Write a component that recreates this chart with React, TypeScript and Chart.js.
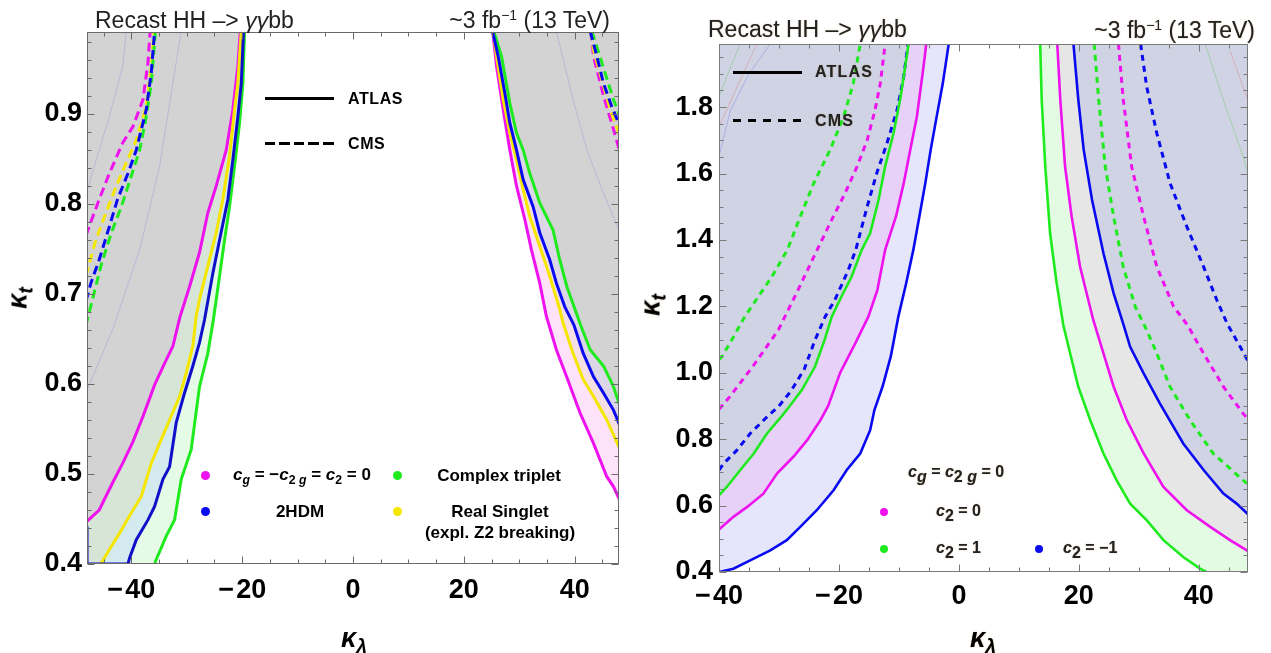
import React, { useEffect, useRef } from 'react';
import { Chart, registerables } from 'chart.js';
Chart.register(...registerables);

type P = [number, number];

// ================= LEFT PANEL DATA =================
const L_xTicks = [-40, -20, 0, 20, 40];
const L_yTicks = [0.4, 0.5, 0.6, 0.7, 0.8, 0.9];

// solid (ATLAS) curves, left branch
const L_magSolidA: P[] = [[-48.06, 0.447], [-45.8, 0.46], [-43.4, 0.49], [-41.55, 0.512], [-39.7, 0.536], [-37.9, 0.564], [-35.8, 0.599], [-34.0, 0.623], [-32.5, 0.642], [-31.2, 0.675], [-29.5, 0.708], [-27.7, 0.746], [-26.2, 0.79], [-24.68, 0.82], [-22.87, 0.86], [-21.68, 0.905], [-20.78, 0.953], [-20.34, 0.992]];
const L_yelSolidA: P[] = [[-45.5, 0.4], [-43.96, 0.416], [-42.15, 0.434], [-40.0, 0.457], [-38.2, 0.475], [-36.4, 0.512], [-34.9, 0.534], [-33.1, 0.56], [-31.3, 0.586], [-30.1, 0.612], [-28.9, 0.642], [-28.3, 0.675], [-27.7, 0.694], [-26.2, 0.731], [-24.68, 0.768], [-23.49, 0.805], [-22.28, 0.853], [-21.37, 0.905], [-20.78, 0.934], [-20.16, 0.992]];
const L_bluSolidA: P[] = [[-40.6, 0.4], [-40.3, 0.407], [-39.1, 0.427], [-37.0, 0.449], [-35.8, 0.464], [-34.3, 0.494], [-33.1, 0.508], [-31.9, 0.557], [-30.4, 0.59], [-28.9, 0.62], [-27.7, 0.646], [-26.8, 0.671], [-25.29, 0.723], [-24.08, 0.76], [-22.58, 0.805], [-21.68, 0.849], [-20.78, 0.897], [-20.16, 0.934], [-19.75, 0.992]];
const L_grnSolidA: P[] = [[-35.8, 0.4], [-35.5, 0.405], [-33.7, 0.431], [-32.2, 0.449], [-31.0, 0.494], [-29.2, 0.527], [-27.7, 0.597], [-26.2, 0.634], [-25.2, 0.671], [-24.08, 0.72], [-23.18, 0.76], [-22.28, 0.797], [-21.37, 0.842], [-20.47, 0.89], [-19.87, 0.934], [-19.57, 0.992]];
const L_bluEdge: P[] = [[-48, 0.442], [-48, 0.4]];

// solid (ATLAS) curves, right branch
const L_magSolidB: P[] = [[25.2, 0.992], [25.9, 0.953], [27.1, 0.905], [28.3, 0.86], [29.5, 0.82], [31.0, 0.783], [32.2, 0.749], [33.7, 0.712], [34.9, 0.675], [35.4, 0.665], [36.7, 0.638], [38.55, 0.608], [40.96, 0.568], [43.4, 0.534], [45.8, 0.497], [47.0, 0.486], [48.2, 0.47]];
const L_yelSolidB: P[] = [[25.3, 0.992], [25.9, 0.964], [27.1, 0.916], [28.3, 0.879], [29.5, 0.849], [30.7, 0.816], [31.9, 0.786], [33.7, 0.753], [35.5, 0.72], [37.3, 0.683], [37.9, 0.668], [39.7, 0.634], [41.55, 0.605], [43.4, 0.586], [45.8, 0.56], [48.2, 0.527]];
const L_bluSolidB: P[] = [[25.18, 0.992], [26.2, 0.964], [27.4, 0.923], [28.3, 0.89], [29.5, 0.86], [30.7, 0.827], [32.5, 0.797], [33.7, 0.768], [35.5, 0.738], [36.7, 0.712], [38.2, 0.686], [39.9, 0.665], [41.55, 0.634], [43.4, 0.608], [45.2, 0.59], [47.0, 0.571], [48.2, 0.553]];
const L_grnSolidB: P[] = [[25.4, 0.992], [26.8, 0.964], [28.3, 0.912], [29.5, 0.879], [30.7, 0.86], [31.9, 0.834], [33.7, 0.801], [36.1, 0.771], [37.3, 0.738], [38.6, 0.708], [41.1, 0.665], [42.8, 0.638], [45.2, 0.62], [47.0, 0.597], [48.2, 0.575]];

// dashed (CMS) curves
const L_magDashA: P[] = [[-48.2, 0.765], [-46.7, 0.79], [-45.8, 0.805], [-43.96, 0.834], [-41.55, 0.868], [-39.7, 0.886], [-37.9, 0.916], [-37.0, 0.957], [-36.6, 0.992]];
const L_yelDashA: P[] = [[-48.2, 0.72], [-46.4, 0.76], [-44.6, 0.79], [-42.7, 0.82], [-40.9, 0.846], [-39.1, 0.871], [-37.3, 0.908], [-36.4, 0.953], [-35.9, 0.992]];
const L_bluDashA: P[] = [[-48.2, 0.692], [-47.3, 0.712], [-45.8, 0.738], [-43.96, 0.775], [-42.5, 0.805], [-40.6, 0.834], [-39.1, 0.86], [-37.3, 0.905], [-36.4, 0.946], [-35.8, 0.992]];
const L_grnDashA: P[] = [[-48.2, 0.665], [-47.0, 0.694], [-45.5, 0.731], [-43.6, 0.768], [-41.8, 0.797], [-40.0, 0.831], [-38.5, 0.86], [-37.3, 0.897], [-36.4, 0.934], [-35.65, 0.992]];
const L_bluDashB: P[] = [[42.8, 0.992], [44.0, 0.964], [45.2, 0.934], [46.7, 0.908], [48.2, 0.886]];
const L_grnDashB: P[] = [[43.1, 0.992], [45.0, 0.955], [47.0, 0.916], [48.2, 0.897]];
const L_yelDashB: P[] = [[42.9, 0.992], [43.4, 0.971], [46.4, 0.905], [48.2, 0.875]];
const L_magDashB: P[] = [[42.9, 0.992], [43.4, 0.964], [45.2, 0.92], [47.0, 0.883], [48.2, 0.857]];

// faint contour lines
const L_faint1: P[] = [[-48.2, 0.59], [-43.4, 0.66], [-38.5, 0.749], [-34.9, 0.842], [-31.0, 0.992]];
const L_faint2: P[] = [[-48.2, 0.81], [-45.8, 0.86], [-43.96, 0.897], [-41.55, 0.953], [-40.9, 0.992]];
const L_faint3: P[] = [[36.7, 0.992], [39.7, 0.916], [42.2, 0.86], [45.2, 0.812], [48.2, 0.768]];

// ================= RIGHT PANEL DATA =================
const R_xTicks = [-40, -20, 0, 20, 40];
const R_yTicks = [0.4, 0.6, 0.8, 1.0, 1.2, 1.4, 1.6, 1.8];

const R_bluSolidA: P[] = [[-40, 0.4], [-37.6, 0.41], [-34.8, 0.435], [-31.45, 0.465], [-28.7, 0.496], [-26.45, 0.536], [-23.7, 0.586], [-20.9, 0.646], [-18.7, 0.707], [-16.45, 0.757], [-14.8, 0.827], [-14.1, 0.887], [-12.7, 0.96], [-11.35, 1.05], [-10.1, 1.169], [-8.8, 1.269], [-7.6, 1.37], [-6.6, 1.47], [-5.6, 1.571], [-4.7, 1.672], [-3.7, 1.772], [-2.7, 1.87], [-1.7, 1.99]];
const R_magSolidA: P[] = [[-40, 0.528], [-37.6, 0.566], [-35.3, 0.596], [-32.6, 0.636], [-30.3, 0.697], [-27.6, 0.747], [-25.3, 0.797], [-23.1, 0.857], [-21.8, 0.9], [-19.8, 1.0], [-17.3, 1.088], [-15.1, 1.169], [-13.6, 1.249], [-12.3, 1.37], [-10.5, 1.47], [-9.2, 1.571], [-8.1, 1.672], [-7.0, 1.772], [-5.9, 1.922], [-5.45, 1.99]];
const R_grnSolidA: P[] = [[-40, 0.631], [-38.7, 0.656], [-36.45, 0.707], [-34.2, 0.757], [-32.0, 0.817], [-29.5, 0.87], [-28.2, 0.9], [-26.2, 0.948], [-24.0, 1.018], [-22.4, 1.098], [-21.2, 1.169], [-19.6, 1.229], [-17.9, 1.289], [-16.2, 1.37], [-14.8, 1.42], [-13.4, 1.52], [-12.3, 1.621], [-10.9, 1.721], [-9.8, 1.823], [-8.95, 1.922], [-8.4, 1.99]];
const R_bluDashA: P[] = [[-40, 0.707], [-39.2, 0.727], [-37.0, 0.767], [-34.8, 0.817], [-32.0, 0.867], [-30.0, 0.9], [-28.0, 0.945], [-25.8, 1.01], [-24.0, 1.098], [-22.3, 1.169], [-20.7, 1.219], [-18.45, 1.309], [-17.2, 1.37], [-15.3, 1.5], [-13.7, 1.601], [-12.0, 1.691], [-10.3, 1.792], [-9.2, 1.892], [-8.5, 1.99]];
const R_magDashA: P[] = [[-40, 0.89], [-38.2, 0.928], [-34.0, 1.028], [-30.1, 1.129], [-27.1, 1.239], [-24.3, 1.345], [-21.5, 1.45], [-19.0, 1.54], [-17.0, 1.62], [-15.3, 1.7], [-14.0, 1.79], [-13.1, 1.872], [-12.3, 1.99]];
const R_grnDashA: P[] = [[-40, 1.04], [-39.55, 1.048], [-37.9, 1.098], [-35.7, 1.169], [-33.45, 1.229], [-31.2, 1.289], [-28.6, 1.37], [-26.45, 1.47], [-24.2, 1.571], [-21.45, 1.672], [-19.2, 1.772], [-17.6, 1.872], [-16.45, 1.99]];

const R_grnSolidB: P[] = [[13.55, 1.99], [13.8, 1.823], [14.4, 1.621], [15.2, 1.42], [16.3, 1.269], [17.4, 1.144], [18.55, 1.058], [19.9, 0.958], [21.9, 0.857], [24.1, 0.757], [26.3, 0.676], [28.55, 0.606], [31.3, 0.556], [34.1, 0.496], [37.4, 0.445], [40.2, 0.41], [41.3, 0.4]];
const R_magSolidB: P[] = [[16.4, 1.99], [16.9, 1.823], [17.7, 1.621], [18.8, 1.47], [20.2, 1.319], [22.4, 1.159], [24.1, 1.058], [25.8, 0.958], [28.0, 0.857], [30.8, 0.757], [34.1, 0.656], [38.0, 0.586], [41.9, 0.536], [45.2, 0.496], [48.2, 0.463]];
const R_bluSolidB: P[] = [[19.1, 1.99], [19.9, 1.823], [20.8, 1.672], [22.2, 1.52], [24.1, 1.36], [25.8, 1.239], [27.45, 1.144], [28.55, 1.078], [30.8, 0.998], [33.5, 0.908], [37.4, 0.787], [40.8, 0.707], [44.1, 0.636], [46.3, 0.606], [48.2, 0.574]];
const R_grnDashB: P[] = [[22.55, 1.99], [23.3, 1.823], [24.4, 1.621], [25.8, 1.47], [27.4, 1.319], [29.4, 1.199], [31.3, 1.129], [33.0, 1.058], [35.2, 0.958], [38.55, 0.857], [42.4, 0.757], [47.4, 0.676], [48.2, 0.665]];
const R_magDashB: P[] = [[26.6, 1.99], [27.4, 1.823], [28.8, 1.621], [30.8, 1.47], [33.0, 1.319], [35.8, 1.199], [38.1, 1.144], [40.8, 1.058], [44.1, 0.958], [47.4, 0.877], [48.2, 0.86]];
const R_bluDashB: P[] = [[30.3, 1.99], [31.3, 1.862], [33.0, 1.721], [35.2, 1.571], [38.0, 1.44], [40.8, 1.319], [43.0, 1.219], [44.7, 1.149], [46.9, 1.078], [48.2, 1.035]];

const R_faintG1: P[] = [[-40, 1.832], [-38.3, 1.91], [-36.45, 1.99]];
const R_faintR1: P[] = [[-40, 1.741], [-37.0, 1.86], [-33.7, 1.99]];
const R_faintB1: P[] = [[-40, 1.651], [-38.1, 1.79], [-35.0, 1.9], [-31.45, 1.99]];
const R_faintG2: P[] = [[41.05, 1.99], [44.5, 1.8], [47.4, 1.651], [48.2, 1.6]];
const R_faintR2: P[] = [[45.2, 1.97], [48.2, 1.82]];

// ================= COLOURS =================
const MAG = '#ee12ee';
const BLU = '#0a0af0';
const GRN = '#1eea1e';
const YEL = '#f5e600';
const FONT = '"Liberation Sans", Arial, Helvetica, sans-serif';

const pts = (a: P[]) => a.map(([x, y]) => ({ x, y }));
function lineDS(data: P[], color: string, width: number, dash: number[], order: number) {
  return {
    data: pts(data), borderColor: color, borderWidth: width, borderDash: dash,
    backgroundColor: 'transparent', pointRadius: 0, fill: false, tension: 0, order, clip: 0,
  };
}
function fillDS(data: P[], color: string, order: number) {
  return {
    data: pts(data), borderColor: 'transparent', borderWidth: 0, backgroundColor: color,
    pointRadius: 0, fill: 'end', tension: 0, order, clip: 0,
  };
}

const frameTicks = {
  id: 'frameTicks',
  afterDraw(chart: any, _args: any, o: any) {
    const { ctx, chartArea: a } = chart;
    const xs = chart.scales.x;
    const ys = chart.scales.y;
    ctx.save();
    ctx.strokeStyle = o.color;
    ctx.lineWidth = 1;
    const L = Math.round(a.left) + 0.5, R = Math.round(a.right) - 0.5;
    const T = Math.round(a.top) + 0.5, B = Math.round(a.bottom) - 0.5;
    ctx.strokeRect(L, T, R - L, B - T);
    const isMajor = (ticks: any[], v: number) => ticks.some((t) => Math.abs(t.value - v) < 1e-6);
    ctx.beginPath();
    for (let k = Math.ceil(xs.min / o.xMinor - 1e-6); k <= Math.floor(xs.max / o.xMinor + 1e-6); k++) {
      const v = k * o.xMinor;
      const len = isMajor(xs.ticks, v) ? o.major : o.minor;
      const p = Math.round(xs.getPixelForValue(v)) + 0.5;
      ctx.moveTo(p, B); ctx.lineTo(p, B - len);
      ctx.moveTo(p, T); ctx.lineTo(p, T + len);
    }
    for (let k = Math.ceil(ys.min / o.yMinor - 1e-6); k <= Math.floor(ys.max / o.yMinor + 1e-6); k++) {
      const v = k * o.yMinor;
      const len = isMajor(ys.ticks, v) ? o.major : o.minor;
      const p = Math.round(ys.getPixelForValue(v)) + 0.5;
      ctx.moveTo(L, p); ctx.lineTo(L + len, p);
      ctx.moveTo(R, p); ctx.lineTo(R - len, p);
    }
    ctx.stroke();
    ctx.restore();
  },
};

const tickFont = { family: FONT, size: 27, weight: 'bold' as const };
const fmtX = (v: any) => (Number(v) < 0 ? '\u2212\u200a' + Math.abs(Number(v)) : String(v));

function makeScales(xMin: number, xMax: number, yMin: number, yMax: number, xT: number[], yT: number[],
  xH: number, yW: number, xPad: number, yPad: number) {
  return {
    x: {
      type: 'linear', min: xMin, max: xMax,
      afterBuildTicks: (s: any) => { s.ticks = xT.map((v) => ({ value: v })); },
      afterFit: (s: any) => { s.height = xH; },
      grid: { display: false, drawTicks: false },
      border: { display: false },
      ticks: { padding: xPad, font: tickFont, color: '#000', callback: fmtX, maxRotation: 0, autoSkip: false },
    },
    y: {
      type: 'linear', min: yMin, max: yMax,
      afterBuildTicks: (s: any) => { s.ticks = yT.map((v) => ({ value: v })); },
      afterFit: (s: any) => { s.width = yW; },
      grid: { display: false, drawTicks: false },
      border: { display: false },
      ticks: { padding: yPad, font: tickFont, color: '#000', callback: (v: any) => Number(v).toFixed(1), autoSkip: false },
    },
  };
}

function leftConfig(): any {
  const sw = 3, dw = 3, dash = [9, 5];
  const xmin = -48;
  return {
    type: 'line',
    data: {
      datasets: [
        fillDS([[xmin, 0.4], ...L_grnSolidA], '#e6fbe6', 20),
        fillDS([[xmin, 0.4], ...L_bluSolidA], '#d3eaef', 19),
        fillDS([[xmin, 0.4], ...L_yelSolidA], '#d6e5d5', 18),
        fillDS(L_magSolidA, '#d3d3d3', 17),
        fillDS(L_magSolidB, '#fde2f9', 16),
        fillDS(L_yelSolidB, '#f5dfe4', 15),
        fillDS(L_bluSolidB, '#dcd7e6', 14),
        fillDS(L_grnSolidB, '#d3d3d3', 13),
        lineDS(L_faint1, 'rgba(150,150,220,0.45)', 1, [], 10),
        lineDS(L_faint2, 'rgba(150,150,220,0.45)', 1, [], 10),
        lineDS(L_faint3, 'rgba(150,150,220,0.45)', 1, [], 10),
        lineDS(L_grnDashA, GRN, dw, dash, 5),
        lineDS(L_bluDashA, BLU, dw, dash, 4),
        lineDS(L_yelDashA, YEL, dw, dash, 6),
        lineDS(L_magDashA, MAG, dw, dash, 7),
        lineDS(L_grnDashB, GRN, dw, dash, 5),
        lineDS(L_bluDashB, BLU, dw, dash, 4),
        lineDS(L_yelDashB, YEL, dw, dash, 6),
        lineDS(L_magDashB, MAG, dw, dash, 7),
        lineDS(L_magSolidA, MAG, sw, [], 3),
        lineDS(L_yelSolidA, YEL, sw, [], 2),
        lineDS(L_grnSolidA, GRN, sw, [], 1),
        lineDS([...L_bluEdge, ...L_bluSolidA], '#1010c8', sw, [], 0),
        lineDS(L_magSolidB, MAG, sw, [], 3),
        lineDS(L_yelSolidB, YEL, sw, [], 2),
        lineDS(L_grnSolidB, GRN, sw, [], 1),
        lineDS(L_bluSolidB, BLU, sw, [], 0),
      ],
    },
    options: {
      responsive: false, animation: false, events: [],
      layout: { padding: { top: 32, right: 21, left: 0, bottom: 0 } },
      plugins: {
        legend: { display: false }, tooltip: { enabled: false },
        frameTicks: { xMinor: 5, yMinor: 0.02, major: 7, minor: 4, color: '#6a6a6a' },
      },
      scales: makeScales(-48, 48, 0.4, 0.991, L_xTicks, L_yTicks, 89, 87, 10, 5),
    },
    plugins: [frameTicks],
  };
}

function rightConfig(): any {
  const sw = 2.6, dw = 3, dash = [6, 5];
  return {
    type: 'line',
    data: {
      datasets: [
        fillDS(R_bluSolidA, '#e5e6fb', 20),
        fillDS(R_magSolidA, '#e7d1f8', 19),
        fillDS(R_grnSolidA, '#cfd3e3', 18),
        fillDS([...R_grnSolidB, [48.2, 0.4]], '#e3fbe3', 17),
        fillDS(R_magSolidB, '#e6e6e6', 16),
        fillDS(R_bluSolidB, '#cfd3e3', 15),
        lineDS(R_faintG1, 'rgba(120,200,120,0.5)', 1, [], 10),
        lineDS(R_faintR1, 'rgba(220,140,140,0.5)', 1, [], 10),
        lineDS(R_faintB1, 'rgba(140,140,230,0.5)', 1, [], 10),
        lineDS(R_faintG2, 'rgba(120,200,120,0.5)', 1, [], 10),
        lineDS(R_faintR2, 'rgba(220,140,140,0.5)', 1, [], 10),
        lineDS(R_grnDashA, GRN, dw, dash, 5),
        lineDS(R_magDashA, MAG, dw, dash, 5),
        lineDS(R_bluDashA, BLU, dw, dash, 5),
        lineDS(R_grnDashB, GRN, dw, dash, 5),
        lineDS(R_magDashB, MAG, dw, dash, 5),
        lineDS(R_bluDashB, BLU, dw, dash, 5),
        lineDS(R_bluSolidA, BLU, sw, [], 1),
        lineDS(R_magSolidA, MAG, sw, [], 1),
        lineDS(R_grnSolidA, GRN, sw, [], 0),
        lineDS(R_grnSolidB, GRN, sw, [], 1),
        lineDS(R_magSolidB, MAG, sw, [], 1),
        lineDS(R_bluSolidB, BLU, sw, [], 0),
      ],
    },
    options: {
      responsive: false, animation: false, events: [],
      layout: { padding: { top: 44, right: 23, left: 0, bottom: 0 } },
      plugins: {
        legend: { display: false }, tooltip: { enabled: false },
        frameTicks: { xMinor: 5, yMinor: 0.05, major: 7, minor: 4, color: '#7a7a7a' },
      },
      scales: makeScales(-40, 48.2, 0.4, 1.99, R_xTicks, R_yTicks, 81, 79, 8, 6),
    },
    plugins: [frameTicks],
  };
}

function ChartCanvas({ make, left, width }: { make: () => any; left: number; width: number }) {
  const ref = useRef<HTMLCanvasElement>(null);
  useEffect(() => {
    const c = new Chart(ref.current as HTMLCanvasElement, make());
    return () => c.destroy();
  }, []);
  return (
    <canvas ref={ref} width={width} height={653}
      style={{ position: 'absolute', left, top: 0, width, height: 653 }} />
  );
}

type TP = { x: number; y: number; a?: 'l' | 'c' | 'r'; s?: React.CSSProperties; children: React.ReactNode };
function Txt({ x, y, a = 'l', s, children }: TP) {
  const tx = a === 'c' ? '-50%' : a === 'r' ? '-100%' : '0';
  return (
    <div style={{ position: 'absolute', left: x, top: y, transform: `translate(${tx},-50%)`, whiteSpace: 'nowrap', lineHeight: 1, ...s }}>
      {children}
    </div>
  );
}

const Sub = ({ children, size = '0.72em' }: { children: React.ReactNode; size?: string }) => (
  <span style={{ fontSize: size, position: 'relative', top: '0.3em' }}>{children}</span>
);
const I = ({ children }: { children: React.ReactNode }) => <span style={{ fontStyle: 'italic' }}>{children}</span>;

function Dot({ x, y, c, r = 4.5 }: { x: number; y: number; c: string; r?: number }) {
  return <div style={{ position: 'absolute', left: x - r, top: y - r, width: 2 * r, height: 2 * r, borderRadius: '50%', background: c }} />;
}
function Seg({ x, y, w, dash }: { x: number; y: number; w: number; dash?: [number, number] }) {
  const bg = dash ? `repeating-linear-gradient(90deg, #000 0 ${dash[0]}px, transparent ${dash[0]}px ${dash[0] + dash[1]}px)` : '#000';
  return <div style={{ position: 'absolute', left: x, top: y - 1.5, width: w, height: 3, background: bg }} />;
}

const TITLE = 'Recast HH \u2013> ';
const LUMI = '~3 fb';
const bold16: React.CSSProperties = { fontWeight: 'bold', fontSize: 16 };
const kappa: React.CSSProperties = { fontWeight: 'bold', fontStyle: 'italic', fontSize: 27 };
const shadow: React.CSSProperties = { textShadow: '0 0 1.2px rgba(150,100,30,0.55)' };

export default function App() {
  return (
    <div style={{ position: 'absolute', left: 0, top: 0, width: 1271, height: 653, background: '#fff', fontFamily: FONT, color: '#000', overflow: 'hidden' }}>
      <ChartCanvas make={leftConfig} left={0} width={640} />
      <ChartCanvas make={rightConfig} left={640} width={631} />

      {/* ---------- left panel texts ---------- */}
      <Txt x={95} y={20} s={{ fontSize: 23, color: '#222' }}>{TITLE}<I>γγ</I>bb</Txt>
      <Txt x={610} y={20} a="r" s={{ fontSize: 23, color: '#222' }}>{LUMI}<sup style={{ fontSize: 14 }}>{'\u22121'}</sup> (13 TeV)</Txt>
      <Txt x={18} y={298} a="l" s={{ ...kappa, transform: 'translate(-50%,-50%) rotate(-90deg)' }}>κ<Sub>t</Sub></Txt>
      <Txt x={354} y={638} a="c" s={kappa}>κ<Sub>λ</Sub></Txt>

      <Seg x={265} y={98} w={69} />
      <Txt x={348} y={99} s={{ ...bold16, letterSpacing: 0.6 }}>ATLAS</Txt>
      <Seg x={265} y={143} w={69} dash={[10.5, 4]} />
      <Txt x={348} y={144} s={{ ...bold16, letterSpacing: 0.6 }}>CMS</Txt>

      <Dot x={205} y={475} c={MAG} />
      <Dot x={205} y={511} c={BLU} />
      <Dot x={397} y={475} c={GRN} />
      <Dot x={397} y={511} c={YEL} />
      <Txt x={302} y={474} a="c" s={{ fontWeight: 'bold', fontSize: 17 }}>
        <I>c</I><Sub><I>g</I></Sub> = −<I>c</I><Sub>2 <I>g</I></Sub> = <I>c</I><Sub>2</Sub> = 0
      </Txt>
      <Txt x={300} y={511} a="c" s={{ fontWeight: 'bold', fontSize: 17 }}>2HDM</Txt>
      <Txt x={499} y={475} a="c" s={{ fontWeight: 'bold', fontSize: 17 }}>Complex triplet</Txt>
      <Txt x={500} y={511} a="c" s={{ fontWeight: 'bold', fontSize: 17 }}>Real Singlet</Txt>
      <Txt x={500} y={532} a="c" s={{ fontWeight: 'bold', fontSize: 17 }}>(expl. Z2 breaking)</Txt>

      {/* ---------- right panel texts ---------- */}
      <Txt x={708} y={29} s={{ fontSize: 23, color: '#222', ...shadow }}>{TITLE}<I>γγ</I>bb</Txt>
      <Txt x={1255} y={30} a="r" s={{ fontSize: 23, color: '#222', ...shadow }}>{LUMI}<sup style={{ fontSize: 14 }}>{'\u22121'}</sup> (13 TeV)</Txt>
      <Txt x={651} y={305} a="l" s={{ ...kappa, ...shadow, transform: 'translate(-50%,-50%) rotate(-90deg)' }}>κ<Sub>t</Sub></Txt>
      <Txt x={983} y={638} a="c" s={{ ...kappa, ...shadow }}>κ<Sub>λ</Sub></Txt>

      <Seg x={733} y={72} w={69} />
      <Txt x={815} y={72} s={{ ...bold16, letterSpacing: 1.2, color: '#222', ...shadow }}>ATLAS</Txt>
      <Seg x={733} y={120} w={69} dash={[8, 7]} />
      <Txt x={815} y={121} s={{ ...bold16, letterSpacing: 1.2, color: '#222', ...shadow }}>CMS</Txt>

      <Txt x={908} y={472} s={{ fontWeight: 'bold', fontSize: 16, color: '#222', ...shadow }}>
        <I>c</I><Sub size="1em"><I>g</I></Sub> = <I>c</I><Sub size="1em">2 <I>g</I></Sub> = 0
      </Txt>
      <Dot x={884} y={512} c={MAG} r={4} />
      <Dot x={884} y={549} c={GRN} r={4} />
      <Dot x={1039} y={549} c={BLU} r={4} />
      <Txt x={936} y={511} s={{ fontWeight: 'bold', fontSize: 16, color: '#222', ...shadow }}><I>c</I><Sub size="1em">2</Sub> = 0</Txt>
      <Txt x={936} y={548} s={{ fontWeight: 'bold', fontSize: 16, color: '#222', ...shadow }}><I>c</I><Sub size="1em">2</Sub> = 1</Txt>
      <Txt x={1063} y={548} s={{ fontWeight: 'bold', fontSize: 16, color: '#222', ...shadow }}><I>c</I><Sub size="1em">2</Sub> = −1</Txt>
    </div>
  );
}
